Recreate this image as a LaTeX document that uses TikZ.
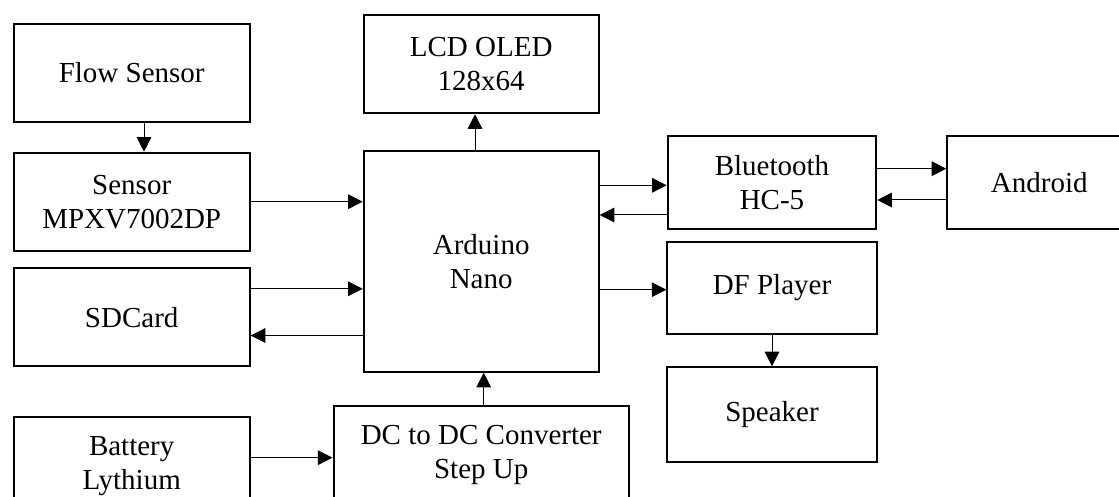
\documentclass[tikz,border=0pt]{standalone}
\usepackage{fontspec}
\setmainfont{Liberation Serif}
\usepackage{tikz}
\usetikzlibrary{arrows.meta, positioning}

\begin{document}
\begin{tikzpicture}[
    x=0.5pt, y=-0.5pt,
    blocknode/.style={rectangle, draw=black, line width=1pt, fill=white, font=\fontsize{14.5}{17}\selectfont, inner sep=2pt, minimum width=118pt, minimum height=49pt, align=center},
    arr/.style={-{Triangle[length=7.3pt, width=7.3pt]}, line width=0.5pt, black}
]

\useasboundingbox (0,0) rectangle (1119,497);
\clip (0,0) rectangle (1119,497);

% Left column
\node[blocknode, anchor=north west] (flow) at (12.7,22.7) {Flow Sensor};
\node[blocknode, below=14.5pt of flow] (mpxv) {Sensor\\MPXV7002DP};
\node[blocknode, below=7.85pt of mpxv] (sd) {SDCard};
\node[blocknode, below=24.5pt of sd] (bat) {Battery\\Lythium};

% Middle column
\node[blocknode, anchor=north west, minimum width=117.5pt, minimum height=110.35pt] (nano) at (362.7,150) {Arduino\\Nano};
\node[blocknode, above=17.85pt of nano, minimum width=117.5pt, minimum height=49.3pt] (lcd) {LCD OLED\\128x64};
\node[blocknode, below=16.3pt of nano, minimum width=147.7pt] (dcdc) {DC to DC Converter\\Step Up};

% Right column
\node[blocknode, anchor=north west, minimum width=104.3pt, minimum height=46.5pt] (bt) at (666.7,134.7) {Bluetooth\\HC-5};
\node[blocknode, right=34.5pt of bt, minimum width=92pt, minimum height=46.5pt] (andr) {Android};
\node[blocknode, below=5.8pt of bt, minimum width=104.6pt, minimum height=45.7pt] (dfp) {DF Player};
\node[blocknode, below=15.8pt of dfp, minimum width=104.6pt, minimum height=47.2pt] (spk) {Speaker};

% Connections
\draw[arr] ([xshift=6.15pt]flow.south) -- ([xshift=6.15pt]mpxv.north);
\draw[arr] (mpxv.east) -- (mpxv.east -| nano.west);
\draw[arr] ([yshift=14.3pt]sd.east) -- ([yshift=14.3pt]sd.east -| nano.west);
\draw[arr] ([yshift=-9.05pt]sd.east -| nano.west) -- ([yshift=-9.05pt]sd.east);
\draw[arr] ([xshift=-3.1pt]nano.north) -- ([xshift=-3.1pt]lcd.south);
\draw[arr] ([xshift=1.25pt]dcdc.north) -- ([xshift=1.25pt]nano.south);
\draw[arr] ([yshift=4.35pt]bat.east) -- ([yshift=4.35pt]bat.east -| dcdc.west);

\draw[arr] ([yshift=-1.55pt]bt.west -| nano.east) -- ([yshift=-1.55pt]bt.west);
\draw[arr] ([yshift=-16.4pt]bt.west) -- ([yshift=-16.4pt]bt.west -| nano.east);
\draw[arr] ([yshift=6.75pt]bt.east) -- ([yshift=6.75pt]andr.west);
\draw[arr] ([yshift=-8.9pt]andr.west) -- ([yshift=-8.9pt]bt.east);
\draw[arr] ([yshift=-0.85pt]dfp.west -| nano.east) -- ([yshift=-0.85pt]dfp.west);
\draw[arr] (dfp.south) -- (spk.north);

\end{tikzpicture}
\end{document}
